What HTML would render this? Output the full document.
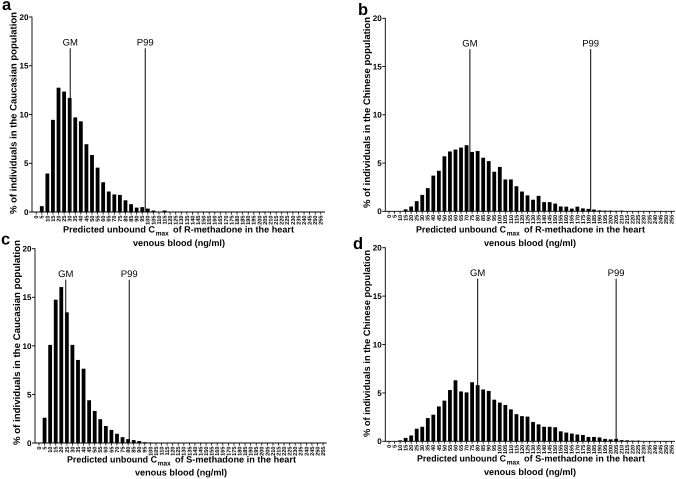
<!DOCTYPE html>
<html>
<head>
<meta charset="utf-8">
<style>
html,body{margin:0;padding:0;background:#fff;width:676px;height:479px;overflow:hidden}
svg{display:block}
text{font-family:"Liberation Sans",sans-serif;fill:#000;text-rendering:geometricPrecision}
.b{font-weight:bold}
</style>
</head>
<body>
<svg id="fig" xmlns="http://www.w3.org/2000/svg" width="676" height="479" viewBox="0 0 676 479"></svg>
<script>
const categories = [0,5,10,15,20,25,30,35,40,45,50,55,60,65,70,75,80,85,90,95,100,105,110,115,120,125,130,135,140,145,150,155,160,165,170,175,180,185,190,195,200,205,210,215,220,225,230,235,240,245,250,255];
const yTicks = [0,5,10,15,20];
const valuesA = [0,0.6,3.95,9.45,12.75,12.35,11.7,9.7,9.3,6.95,5.85,4.55,3.05,2.1,1.8,1.75,1.2,0.8,0.45,0.5,0.35,0.15,0.03,0.15,0.02,0,0,0,0,0,0,0,0,0,0,0,0,0,0,0,0,0,0,0,0,0,0,0,0,0,0,0];
const valuesB = [0,0,0.02,0.2,0.5,1.05,1.7,2.4,3.7,4.2,5.7,6.2,6.4,6.6,6.85,6.15,6.25,5.55,5.2,4.1,4.6,3.3,3.3,2.6,2.05,1.65,1.2,1.6,0.95,0.95,0.8,0.5,0.48,0.28,0.48,0.3,0.25,0.18,0.1,0.07,0.07,0.05,0.07,0.02,0.01,0.01,0,0,0,0,0,0];
const valuesC = [0,2.6,10.1,14.75,16.05,13.45,10.1,8.55,7.65,4.4,3.3,2.45,1.75,1.35,0.95,0.6,0.4,0.3,0.2,0.08,0.06,0.05,0.03,0.02,0.01,0,0,0,0,0,0,0,0,0,0,0,0,0,0,0,0,0,0,0,0,0,0,0,0,0,0,0];
const valuesD = [0,0,0.1,0.35,0.6,1.3,1.5,2.4,2.75,3.6,4.2,5.3,6.3,5.15,5.05,6.1,5.8,5.35,5.2,4.3,4.0,3.75,3.3,2.8,2.6,2.55,2.0,1.75,1.5,1.5,1.45,1.03,0.9,0.8,0.7,0.65,0.45,0.45,0.4,0.25,0.2,0.25,0.12,0.1,0.07,0.07,0.03,0.02,0.01,0.01,0,0];
const gmValues = [30.5,73,24,80];
const p99Values = [97.7,182,81,205];
const markerHeight = 16.8;

const NS = 'http://www.w3.org/2000/svg';
const fig = document.getElementById('fig');

function el(tag, attrs, parent, txt){
  const e = document.createElementNS(NS, tag);
  for (const k in attrs) e.setAttribute(k, attrs[k]);
  if (txt !== undefined) e.textContent = txt;
  (parent || fig).appendChild(e);
  return e;
}

function drawPanel(p, values, gm, p99){
  const g = el('g', {});
  
  
  const xs = v => p.x0 + (v / 5) * p.step;
  const ys = v => p.y0 - v * (p.y0 - p.y20) / 20;

  const letter = el('text', {x: p.lx, y: p.ly, 'font-size': 16.5, class: 'b'}, g, p.id);
  
  

  categories.forEach((c, i) => {
    const v = values[i];
    const h = ys(0) - ys(v);
    if (h > 0) {
      const bar = el('rect', {x: xs(c) - 1.9, y: ys(v), width: 3.8, height: h, fill: '#000'}, g);
      
      
    }
    const t = el('line', {x1: xs(c), x2: xs(c), y1: p.y0, y2: p.y0 + 2.5, stroke: '#000', 'stroke-width': 0.8}, g);
    
    
    const lx = xs(c) + 1.9, ly = p.y0 + 3.5;
    const lab = el('text', {x: lx, y: ly, 'font-size': 5.6, class: 'b', 'text-anchor': 'end', transform: 'rotate(-90 ' + lx + ' ' + ly + ')'}, g, String(c));
    
    
  });

  const xa = el('line', {x1: p.ax, x2: p.xEnd, y1: p.y0, y2: p.y0, stroke: '#000', 'stroke-width': 0.9}, g);
  
  
  const ya = el('line', {x1: p.ax, x2: p.ax, y1: p.y20 - 0.4, y2: p.y0 + 0.4, stroke: '#000', 'stroke-width': 0.9}, g);
  
  

  yTicks.forEach(v => {
    const t = el('line', {x1: p.ax - 3, x2: p.ax, y1: ys(v), y2: ys(v), stroke: '#000', 'stroke-width': 0.9}, g);
    
    
    const lab = el('text', {x: p.ax - 3.5, y: ys(v) + 2.9, 'font-size': 8.1, class: 'b', 'text-anchor': 'end'}, g, String(v));
    
    
  });

  const yt = el('text', {x: p.ytx, y: p.yty, 'font-size': p.ytSize, class: 'b', 'text-anchor': 'middle', textLength: p.ytLen, lengthAdjust: 'spacingAndGlyphs', transform: 'rotate(-90 ' + p.ytx + ' ' + p.yty + ')'}, g, p.yTitle);
  
  

  const headLen = p.xtLen - 139;
  const xt = el('text', {x: p.xtx, y: p.xty, 'font-size': 9.1, class: 'b', textLength: headLen, lengthAdjust: 'spacingAndGlyphs'}, g, 'Predicted unbound C');
  
  
  const sub = el('text', {x: p.xtx + headLen + 0.7, y: p.xty + 3, 'font-size': 6.8, class: 'b', textLength: 13, lengthAdjust: 'spacingAndGlyphs'}, g, 'max');
  
  
  const xt1 = el('text', {x: p.xtx + p.xtLen - 121, y: p.xty, 'font-size': 9.1, class: 'b', textLength: 121, lengthAdjust: 'spacingAndGlyphs'}, g, 'of ' + p.drug + '-methadone in the heart');
  
  
  const xt2 = el('text', {x: p.vx, y: p.vy, 'font-size': 9.1, class: 'b', textLength: 92, lengthAdjust: 'spacingAndGlyphs'}, g, 'venous blood (ng/ml)');
  
  

  [['GM', gm], ['P99', p99]].forEach(m => {
    const x = xs(m[1]);
    const ln = el('line', {x1: x, x2: x, y1: ys(markerHeight), y2: ys(0), stroke: '#111', 'stroke-width': 1.05}, g);
    
    
    const tx = el('text', {x: x, y: ys(markerHeight) - 2.6, 'font-size': 9.5, 'text-anchor': 'middle'}, g, m[0]);
    
    
  });
}

drawPanel({id:'a', drug:'R', x0:36.2, step:5.58, y0:212, y20:17, ax:32, xEnd:325, lx:2, ly:10, ytx:16.7, yty:113, ytSize:9.5, ytLen:202, yTitle:'% of individuals in the Caucasian population', xtx:63, xtLen:231, xty:232.5, vx:133, vy:246}, valuesA, gmValues[0], p99Values[0]);
drawPanel({id:'b', drug:'R', x0:389, step:5.54, y0:211.3, y20:18.3, ax:385.3, xEnd:675, lx:358, ly:15, ytx:370, yty:112.5, ytSize:9.5, ytLen:191, yTitle:'% of individuals in the Chinese population', xtx:416, xtLen:229, xty:232.5, vx:484, vy:246}, valuesB, gmValues[1], p99Values[1]);
drawPanel({id:'c', drug:'S', x0:39, step:5.57, y0:443, y20:248.7, ax:35, xEnd:326.7, lx:1, ly:244.5, ytx:20, yty:342.5, ytSize:9.65, ytLen:205, yTitle:'% of individuals in the Caucasian population', xtx:67, xtLen:229, xty:462.7, vx:135, vy:475.6}, valuesC, gmValues[2], p99Values[2]);
drawPanel({id:'d', drug:'S', x0:389, step:5.54, y0:441.3, y20:247.7, ax:385.3, xEnd:675, lx:353, ly:249, ytx:370, yty:343.5, ytSize:9.3, ytLen:187, yTitle:'% of individuals in the Chinese population', xtx:417, xtLen:228, xty:461.7, vx:484, vy:475}, valuesD, gmValues[3], p99Values[3]);
</script>
</body>
</html>
